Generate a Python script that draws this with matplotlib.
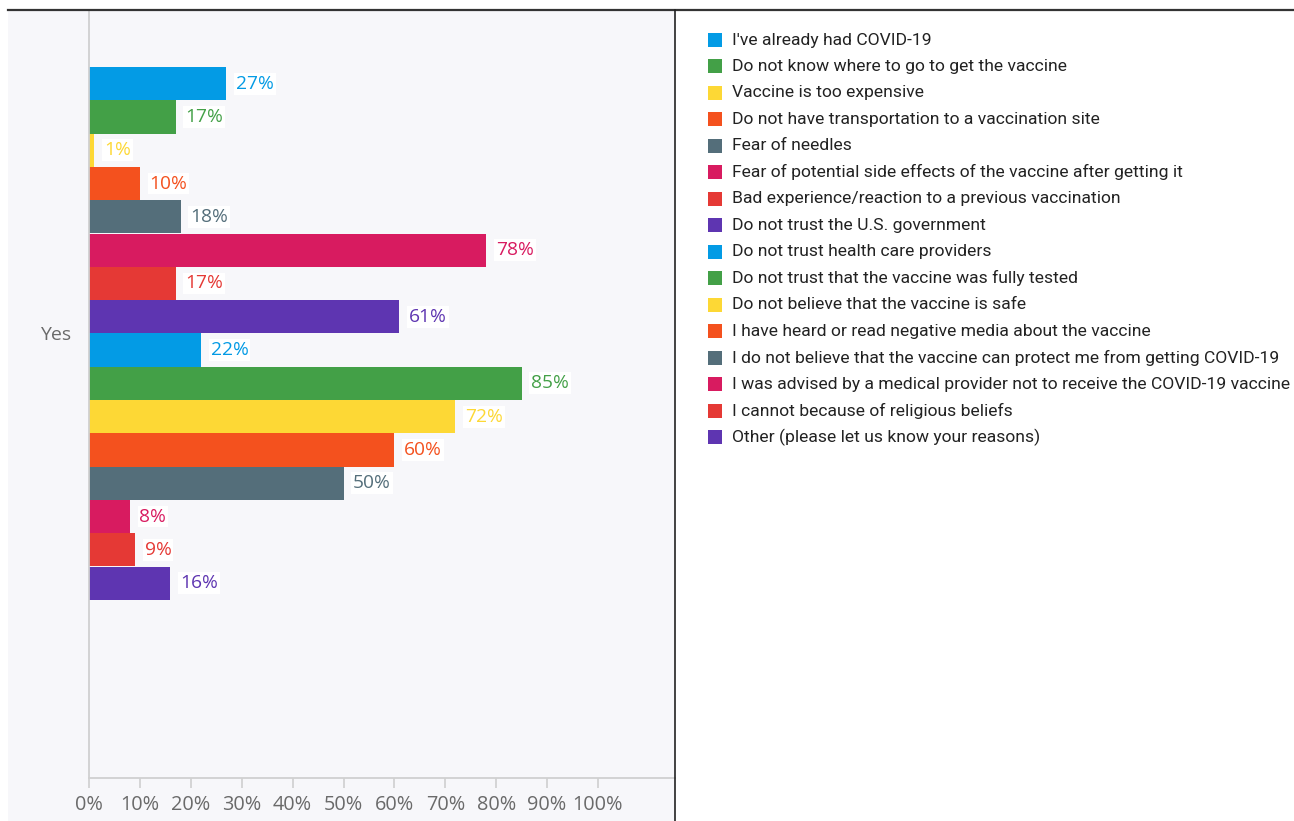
import matplotlib
matplotlib.use("Agg")
import matplotlib.pyplot as plt
from matplotlib.patches import Rectangle
from matplotlib.lines import Line2D

# ---------------- data ----------------
reasons = [
    "I've already had COVID-19",
    "Do not know where to go to get the vaccine",
    "Vaccine is too expensive",
    "Do not have transportation to a vaccination site",
    "Fear of needles",
    "Fear of potential side effects of the vaccine after getting it",
    "Bad experience/reaction to a previous vaccination",
    "Do not trust the U.S. government",
    "Do not trust health care providers",
    "Do not trust that the vaccine was fully tested",
    "Do not believe that the vaccine is safe",
    "I have heard or read negative media about the vaccine",
    "I do not believe that the vaccine can protect me from getting COVID-19",
    "I was advised by a medical provider not to receive the COVID-19 vaccine",
    "I cannot because of religious beliefs",
    "Other (please let us know your reasons)",
]
values = [27, 17, 1, 10, 18, 78, 17, 61, 22, 85, 72, 60, 50, 8, 9, 16]
colors = ["#039be5", "#43a047", "#fdd835", "#f4511e", "#546e7a", "#d81b60",
          "#e53935", "#5e35b1", "#039be5", "#43a047", "#fdd835", "#f4511e",
          "#546e7a", "#d81b60", "#e53935", "#5e35b1"]
group_label = "Yes"
x_ticks = [0, 10, 20, 30, 40, 50, 60, 70, 80, 90, 100]
x_ticklabels = [f"{t}%" for t in x_ticks]

# ---------------- figure ----------------
W, H = 1294, 821
fig = plt.figure(figsize=(W / 100, H / 100), dpi=100)
fig.patch.set_facecolor("white")

def fx(px):
    return px / W

def fy(py):
    return 1 - py / H

num_font = "Open Sans"
leg_font = "Roboto"

# left panel background
bg = Rectangle((fx(8), 0), fx(675) - fx(8), fy(10), transform=fig.transFigure,
               facecolor="#f7f7fa", edgecolor="none", zorder=-10)
fig.add_artist(bg)
# frame lines
fig.add_artist(Line2D([fx(8), 1], [fy(10), fy(10)], transform=fig.transFigure,
                      color="#333333", lw=1.6, zorder=5))
fig.add_artist(Line2D([fx(675), fx(675)], [0, fy(10)], transform=fig.transFigure,
                      color="#222222", lw=1.2, zorder=5))

# axes
ax_left, ax_right, ax_top, ax_bottom = 89, 675, 10, 778
ax = fig.add_axes([fx(ax_left), fy(ax_bottom), fx(ax_right - ax_left), (ax_bottom - ax_top) / H])
ax.patch.set_visible(False)
ax.set_zorder(1)

n = len(values)
ypos = list(range(n))
ax.barh(ypos, values, height=1.0, color=colors, edgecolor="none", zorder=2)

for y, v, c in zip(ypos, values, colors):
    ax.annotate(f"{v}%", xy=(v, y), xytext=(7, 0), textcoords="offset points",
                ha="left", va="center", fontsize=13.8, color=c, family=num_font,
                bbox=dict(boxstyle="square,pad=0.1", fc="white", ec="none"), zorder=3)

ax.set_xlim(0, (ax_right - ax_left) / 5.09)
unit = 33.3
top_units = (67 - ax_top) / unit
ylow = -0.5 - top_units
yhigh = ylow + (ax_bottom - ax_top) / unit
ax.set_ylim(yhigh, ylow)

ax.set_xticks(x_ticks)
ax.set_xticklabels(x_ticklabels, family=num_font, fontsize=14.3, color="#6a6a6a")
ax.set_yticks([(n - 1) / 2])
ax.set_yticklabels([group_label], family=num_font, fontsize=14, color="#6a6a6a")
ax.tick_params(axis="x", length=7, width=1.2, color="#cfcfcf", pad=5)
ax.tick_params(axis="y", length=0, pad=13)

for s in ["top", "right"]:
    ax.spines[s].set_visible(False)
for s in ["left", "bottom"]:
    ax.spines[s].set_color("#d0d0d0")
    ax.spines[s].set_linewidth(1.3)

# legend (manual)
row0, dy = 40, 26.47
for i, (lab, c) in enumerate(zip(reasons, colors)):
    yc = row0 + i * dy
    fig.add_artist(Rectangle((fx(708), fy(yc + 7)), fx(14), 14 / H, transform=fig.transFigure,
                             facecolor=c, edgecolor="none", zorder=3))
    fig.text(fx(732), fy(yc), lab, ha="left", va="center", fontsize=12.6, family=leg_font,
             color="#222222")

fig.savefig("out.png", dpi=100)
